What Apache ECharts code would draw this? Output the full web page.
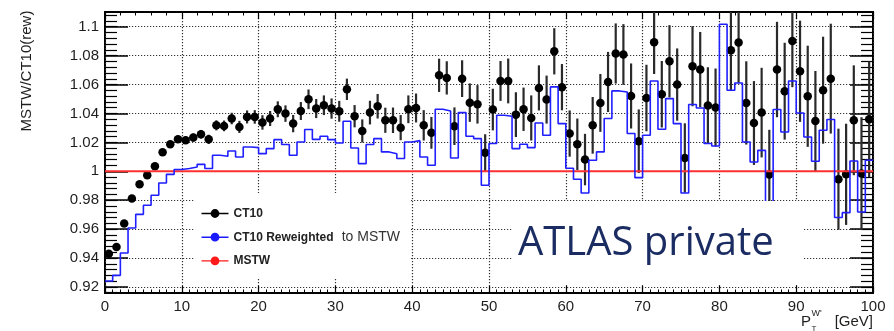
<!DOCTYPE html>
<html><head><meta charset="utf-8">
<script src="https://cdn.jsdelivr.net/npm/echarts@6/dist/echarts.min.js"></script>
<style>html,body{margin:0;padding:0;background:#fff}#c{width:894px;height:331px}</style>
</head><body><div id="c"></div><script>
// ---- data ----
// pT bin edges in GeV (1 GeV bins, 0..100)
const ptEdges = Array.from({length: 101}, (_, i) => i);

// CT10 / reference ratio (black points), one per bin
const ct10 = [
 0.943, 0.9476, 0.9638, 0.9811, 0.991, 0.9972, 1.0035, 1.0131, 1.0187, 1.0221,
 1.0215, 1.0233, 1.0256, 1.0221, 1.0318, 1.0314, 1.0365, 1.0307, 1.0376, 1.0376,
 1.0338, 1.0365, 1.0429, 1.0399, 1.033, 1.0417, 1.0498, 1.0434, 1.0457, 1.0434,
 1.0415, 1.0567, 1.0381, 1.0279, 1.0406, 1.045, 1.0353, 1.0353, 1.0302, 1.0429,
 1.0438, 1.0318, 1.0266, 1.0664, 1.0646, 1.0312, 1.0641, 1.0475, 1.0463, 1.0129,
 1.0427, 1.0625, 1.0625, 1.0392, 1.0429, 1.0369, 1.0577, 1.0496, 1.083, 1.0582,
 1.0261, 1.0187, 1.0081, 1.0318, 1.0473, 1.0618, 1.0815, 1.0808, 1.0521, 1.0208,
 1.0507, 1.0893, 1.0533, 1.0761, 1.06, 1.0092, 1.0727, 1.0704, 1.0455, 1.0441,
 1.14, 1.0837, 1.0891, 1.0473, 1.0334, 1.0406, 0.9977, 1.0704, 1.0554, 1.0902,
 1.0692, 1.0519, 1.0348, 1.0561, 1.0641, 0.9945, 0.9979, 1.0353, 0.9984, 1.036
];
// statistical uncertainty of the CT10 points
const ct10Err = [
 0.001, 0.001, 0.0012, 0.0013, 0.0015, 0.0016, 0.0018, 0.002, 0.0022, 0.0024,
 0.0026, 0.0028, 0.003, 0.0032, 0.0035, 0.0037, 0.004, 0.0042, 0.0045, 0.0047,
 0.005, 0.0052, 0.0055, 0.0057, 0.006, 0.0062, 0.0068, 0.0066, 0.0068, 0.007,
 0.0072, 0.0074, 0.0077, 0.008, 0.0082, 0.0085, 0.0087, 0.0088, 0.0087, 0.0096,
 0.01, 0.0105, 0.011, 0.0115, 0.0115, 0.013, 0.0127, 0.0133, 0.0133, 0.0127,
 0.0144, 0.0138, 0.0155, 0.0155, 0.015, 0.0156, 0.0156, 0.0166, 0.016, 0.016,
 0.016, 0.0178, 0.0178, 0.0196, 0.02, 0.0208, 0.0208, 0.021, 0.0225, 0.022,
 0.023, 0.022, 0.023, 0.025, 0.025, 0.024, 0.0277, 0.026, 0.0265, 0.027,
 0.028, 0.028, 0.028, 0.0288, 0.029, 0.031, 0.031, 0.033, 0.0335, 0.032,
 0.035, 0.035, 0.0346, 0.037, 0.038, 0.035, 0.035, 0.038, 0.039, 0.04
];
// CT10 reweighted to MSTW (blue histogram), one per bin
const ct10Rew = [
 0.9241, 0.928, 0.9435, 0.9608, 0.9702, 0.9765, 0.9834, 0.9919, 0.9979, 1.0012,
 1.0019, 1.003, 1.0048, 1.0019, 1.0111, 1.0104, 1.014, 1.0099, 1.0168, 1.0164,
 1.0122, 1.0157, 1.0219, 1.0185, 1.0111, 1.0203, 1.0289, 1.0221, 1.0242, 1.0219,
 1.0196, 1.0346, 1.0161, 1.0053, 1.0185, 1.0226, 1.0134, 1.0122, 1.0088, 1.0203,
 1.0212, 1.0099, 1.0042, 1.0429, 1.0417, 1.0092, 1.0406, 1.0242, 1.0226, 0.9903,
 1.0192, 1.0388, 1.0381, 1.0157, 1.0187, 1.0164, 1.0334, 1.0249, 1.0584, 1.033,
 1.0021, 0.9945, 0.985, 1.0076, 1.0134, 1.0365, 1.0556, 1.0549, 1.0261, 0.9956,
 1.0249, 1.0625, 1.0291, 1.0503, 1.033, 0.985, 1.0462, 1.0438, 1.0192, 1.0175,
 1.1017, 1.0561, 1.0611, 1.0203, 1.0064, 1.0145, 0.972, 1.0427, 1.0272, 1.0625,
 1.0403, 1.0237, 1.0069, 1.0284, 1.0358, 0.968, 0.9714, 1.0071, 0.9718, 1.0076
];
// MSTW / MSTW reference line
const mstwX = [0, 100];
const mstwRatio = [1, 1];

// axis ticks
const xTickValues = [0, 10, 20, 30, 40, 50, 60, 70, 80, 90, 100];
const yMajorTicks = [0.92, 0.94, 0.96, 0.98, 1.0, 1.02, 1.04, 1.06, 1.08, 1.1];
const yTickLabels = ['0.92', '0.94', '0.96', '0.98', '1', '1.02', '1.04', '1.06', '1.08', '1.1'];
const yMinorTicks = [];
for (let k = 229; k <= 277; k++) yMinorTicks.push(+(k * 0.004).toFixed(3));

const Y_MIN = 0.9158, Y_MAX = 1.1102;

// ---- layout ----
const FONT = '"Liberation Sans", Arial, Helvetica, sans-serif';
const GL = 105, GR = 873, GT = 12, GB = 293;
const TXT = '#1e1e1e';
const DOT = [1.2, 1.8];

const centers = ct10.map((_, i) => (ptEdges[i] + ptEdges[i + 1]) / 2);
const ct10Data = ct10.map((v, i) => [centers[i], v]);
const errData = ct10.map((v, i) => [centers[i], v - ct10Err[i], v + ct10Err[i]]);
const rewData = ct10Rew.map((v, i) => [ptEdges[i], v]);
rewData.push([ptEdges[100], ct10Rew[ct10Rew.length - 1]]);
const mstwData = mstwX.map((x, i) => [x, mstwRatio[i]]);

const ICON = 'path://M0,3.8H27V5.2H0Z M17.9,4.5A4.4,4.4,0,1,1,9.1,4.5A4.4,4.4,0,1,1,17.9,4.5Z';

const yCommon = {
  type: 'value', min: Y_MIN, max: Y_MAX,
  axisLine: {show: false}, splitLine: {show: false}, axisLabel: {show: false}
};

const chart = echarts.init(document.getElementById('c'), null, {renderer: 'canvas'});
chart.setOption({
  animation: false,
  backgroundColor: '#fff',
  grid: {left: GL, right: 894 - GR, top: GT, bottom: 331 - GB, show: true,
         borderColor: '#000', borderWidth: 2, backgroundColor: 'transparent'},
  xAxis: [
    {type: 'value', position: 'bottom', min: 0, max: 100, interval: 10,
     axisLine: {show: false},
     axisTick: {inside: true, length: 7, lineStyle: {color: '#000', width: 1.2}},
     minorTick: {show: true, splitNumber: 10, length: 3.5, lineStyle: {color: '#000', width: 1}},
     axisLabel: {fontSize: 15, color: TXT, margin: 6, fontFamily: FONT,
                 formatter: v => String(xTickValues[xTickValues.indexOf(v)])},
     splitLine: {show: true, lineStyle: {type: DOT, color: '#333', width: 1.2}}},
    {type: 'value', position: 'top', min: 0, max: 100, interval: 10,
     axisLine: {show: false},
     axisTick: {inside: true, length: 7, lineStyle: {color: '#000', width: 1.2}},
     minorTick: {show: true, splitNumber: 5, length: 3.5, lineStyle: {color: '#000', width: 1}},
     axisLabel: {show: false}, splitLine: {show: false}}
  ],
  yAxis: [
    Object.assign({}, yCommon, {position: 'left',
      axisTick: {inside: true, length: 23, customValues: yMajorTicks, lineStyle: {color: '#000', width: 1.5}},
      axisLabel: {show: true, customValues: yMajorTicks, fontSize: 15, color: TXT, margin: 6, fontFamily: FONT,
        formatter: v => yTickLabels[yMajorTicks.findIndex(t => Math.abs(t - v) < 1e-6)]},
      splitLine: {show: true, lineStyle: {type: DOT, color: '#333', width: 1.2}}}),
    Object.assign({}, yCommon, {position: 'left',
      axisTick: {inside: true, length: 12, customValues: yMinorTicks, lineStyle: {color: '#000', width: 1.2}}}),
    Object.assign({}, yCommon, {position: 'right',
      axisTick: {inside: true, length: 23, customValues: yMajorTicks, lineStyle: {color: '#000', width: 1.5}}}),
    Object.assign({}, yCommon, {position: 'right',
      axisTick: {inside: true, length: 12, customValues: yMinorTicks, lineStyle: {color: '#000', width: 1.2}}})
  ],
  legend: {
    orient: 'vertical', left: 201.5, top: 206.5, padding: 0, itemGap: 9.7,
    itemWidth: 27, itemHeight: 9, selectedMode: false, z: 12,
    textStyle: {fontSize: 12, fontWeight: 'bold', color: '#222', fontFamily: FONT, lineHeight: 14},
    itemStyle: {borderWidth: 0, opacity: 1},
    data: [{name: 'CT10', icon: ICON}, {name: 'CT10 Reweighted', icon: ICON}, {name: 'MSTW', icon: ICON}]
  },
  series: [
    {name: 'MSTW', type: 'line', data: mstwData, symbol: 'none', silent: true,
     color: '#ff1a1a', lineStyle: {color: '#ff3030', width: 2}, itemStyle: {color: '#ff1a1a'}},
    {name: 'CT10 Reweighted', type: 'line', step: 'end', data: rewData, symbol: 'none', silent: true,
     color: '#1a1aff', lineStyle: {color: '#1f1fff', width: 1.6}, itemStyle: {color: '#1a1aff'}},
    {name: 'CT10 errors', type: 'custom', data: errData, clip: true, silent: true,
     encode: {x: 0, y: [1, 2]},
     renderItem: (params, api) => {
       const x = api.value(0);
       const p1 = api.coord([x, api.value(1)]);
       const p2 = api.coord([x, api.value(2)]);
       return {type: 'line', shape: {x1: p1[0], y1: p1[1], x2: p2[0], y2: p2[1]},
               style: {stroke: '#2a2a2a', lineWidth: 2.2}};
     }},
    {name: 'CT10', type: 'scatter', data: ct10Data, symbol: 'circle', symbolSize: 8.5, silent: true,
     color: '#000', itemStyle: {color: '#000', opacity: 1}}
  ],
  graphic: [
    {type: 'rect', z: 10, shape: {x: 195, y: 193, width: 215, height: 86}, style: {fill: '#fff'}},
    {type: 'rect', z: 10, shape: {x: 513, y: 201, width: 290, height: 83}, style: {fill: '#fff'}},
    {type: 'text', z: 11, x: 518, y: 244,
     style: {text: 'ATLAS private', font: '40px "Open Sans"', fill: '#1a2c62', verticalAlign: 'middle'}},
    {type: 'text', z: 11, x: 341.7, y: 237,
     style: {text: 'to MSTW', font: '14px "Liberation Sans"', fill: '#333', verticalAlign: 'middle'}},
    {type: 'text', z: 11, x: 27, y: 71, rotation: Math.PI / 2,
     style: {text: 'MSTW/CT10(rew)', font: '15px "Liberation Sans"', fill: TXT, align: 'center', verticalAlign: 'middle'}},
    {type: 'text', z: 11, x: 801, y: 322,
     style: {text: 'P', font: '15px "Liberation Sans"', fill: TXT, verticalAlign: 'middle'}},
    {type: 'text', z: 11, x: 811.5, y: 313.5,
     style: {text: "W'", font: '9px "Liberation Sans"', fill: TXT, verticalAlign: 'middle'}},
    {type: 'text', z: 11, x: 811.5, y: 329,
     style: {text: 'T', font: '8px "Liberation Sans"', fill: TXT, verticalAlign: 'middle'}},
    {type: 'text', z: 11, x: 873, y: 322,
     style: {text: '[GeV]', font: '15px "Liberation Sans"', fill: TXT, align: 'right', verticalAlign: 'middle'}}
  ]
});
</script></body></html>
